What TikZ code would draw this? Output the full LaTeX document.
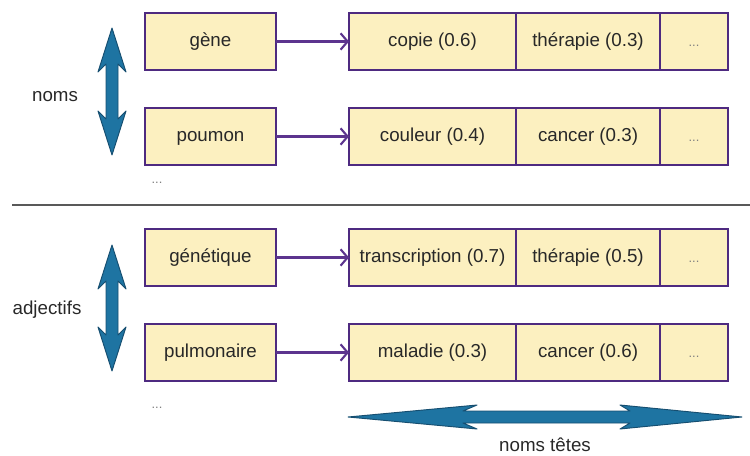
\documentclass[tikz,border=0pt]{standalone}
\usepackage{fontspec}
\setmainfont{Liberation Sans}
\usetikzlibrary{arrows.meta,positioning}

\definecolor{boxfill}{RGB}{252,240,192}
\definecolor{boxline}{RGB}{78,42,128}
\definecolor{linkline}{RGB}{92,52,142}
\definecolor{bigblue}{RGB}{30,116,162}
\definecolor{bigblueline}{RGB}{22,78,112}
\definecolor{txt}{RGB}{40,40,40}

\tikzset{
    wordbox/.style={rectangle, draw=boxline, fill=boxfill, line width=2.1pt,
        outer sep=0pt, minimum width=3.93cm, minimum height=1.71cm,
        text height=11.5pt, text depth=3.5pt,
        text=txt, font=\fontsize{16}{19}\selectfont},
    headcell/.style={wordbox, minimum width=5.01cm},
    secondcell/.style={wordbox, minimum width=4.32cm},
    morecell/.style={wordbox, minimum width=2.04cm, text=gray,
        font=\fontsize{11}{13}\selectfont},
    link/.style={draw=linkline, line width=1.8pt,
        -{Straight Barb[length=6pt,width=14pt,line width=1.8pt]}},
    bigarrow/.style={fill=bigblue, draw=bigblueline, line width=0.8pt, line join=round},
    label/.style={text=txt, font=\fontsize{16}{19}\selectfont},
    dots/.style={text=gray, font=\fontsize{11}{13}\selectfont}
}

\begin{document}
\begin{tikzpicture}[x=0.03cm, y=-0.03cm]

\useasboundingbox (0,0) rectangle (750,456);

% mots de depart
\node (gene) at (210.5,41.5) [wordbox] {gène};
\node (poumon) at (210.5,136.5) [wordbox] {poumon};
\node (genetique) at (210.5,257.5) [wordbox] {génétique};
\node (pulmonaire) at (210.5,352.5) [wordbox] {pulmonaire};

% listes de noms tetes
\node (geneA) at (349,41.5) [headcell, anchor=west] {copie (0.6)};
\node (geneB) [secondcell, right=0pt of geneA] {thérapie (0.3)};
\node (geneC) [morecell, right=0pt of geneB] {...};

\node (poumonA) at (349,136.5) [headcell, anchor=west] {couleur (0.4)};
\node (poumonB) [secondcell, right=0pt of poumonA] {cancer (0.3)};
\node (poumonC) [morecell, right=0pt of poumonB] {...};

\node (genetiqueA) at (349,257.5) [headcell, anchor=west] {transcription (0.7)};
\node (genetiqueB) [secondcell, right=0pt of genetiqueA] {thérapie (0.5)};
\node (genetiqueC) [morecell, right=0pt of genetiqueB] {...};

\node (pulmonaireA) at (349,352.5) [headcell, anchor=west] {maladie (0.3)};
\node (pulmonaireB) [secondcell, right=0pt of pulmonaireA] {cancer (0.6)};
\node (pulmonaireC) [morecell, right=0pt of pulmonaireB] {...};

\draw [link] (gene) -- (geneA);
\draw [link] (poumon) -- (poumonA);
\draw [link] (genetique) -- (genetiqueA);
\draw [link] (pulmonaire) -- (pulmonaireA);

% textes
\node (noms) at (55,97) [label] {noms};
\node (adjectifs) at (47,310) [label] {adjectifs};
\node (tetes) at (545,445) [label] {noms têtes};
\node (dotsA) at (157,183) [dots] {...};
\node (dotsB) at (157,408) [dots] {...};

% separation
\draw [draw=black!65, line width=1.3pt] (12,205) -- (750,205);

% grandes fleches
\filldraw [bigarrow] (112,28) -- (126,72) -- (118,64) -- (118,119) -- (126,111)
    -- (112,155) -- (98,111) -- (106,119) -- (106,64) -- (98,72) -- cycle;
\filldraw [bigarrow] (112,245) -- (126,289) -- (118,281) -- (118,335) -- (126,327)
    -- (112,371) -- (98,327) -- (106,335) -- (106,281) -- (98,289) -- cycle;
\filldraw [bigarrow] (348,417) -- (477,405) -- (463,411) -- (630,411) -- (620,405)
    -- (742,417) -- (620,429) -- (630,423) -- (463,423) -- (477,429) -- cycle;

\end{tikzpicture}
\end{document}
